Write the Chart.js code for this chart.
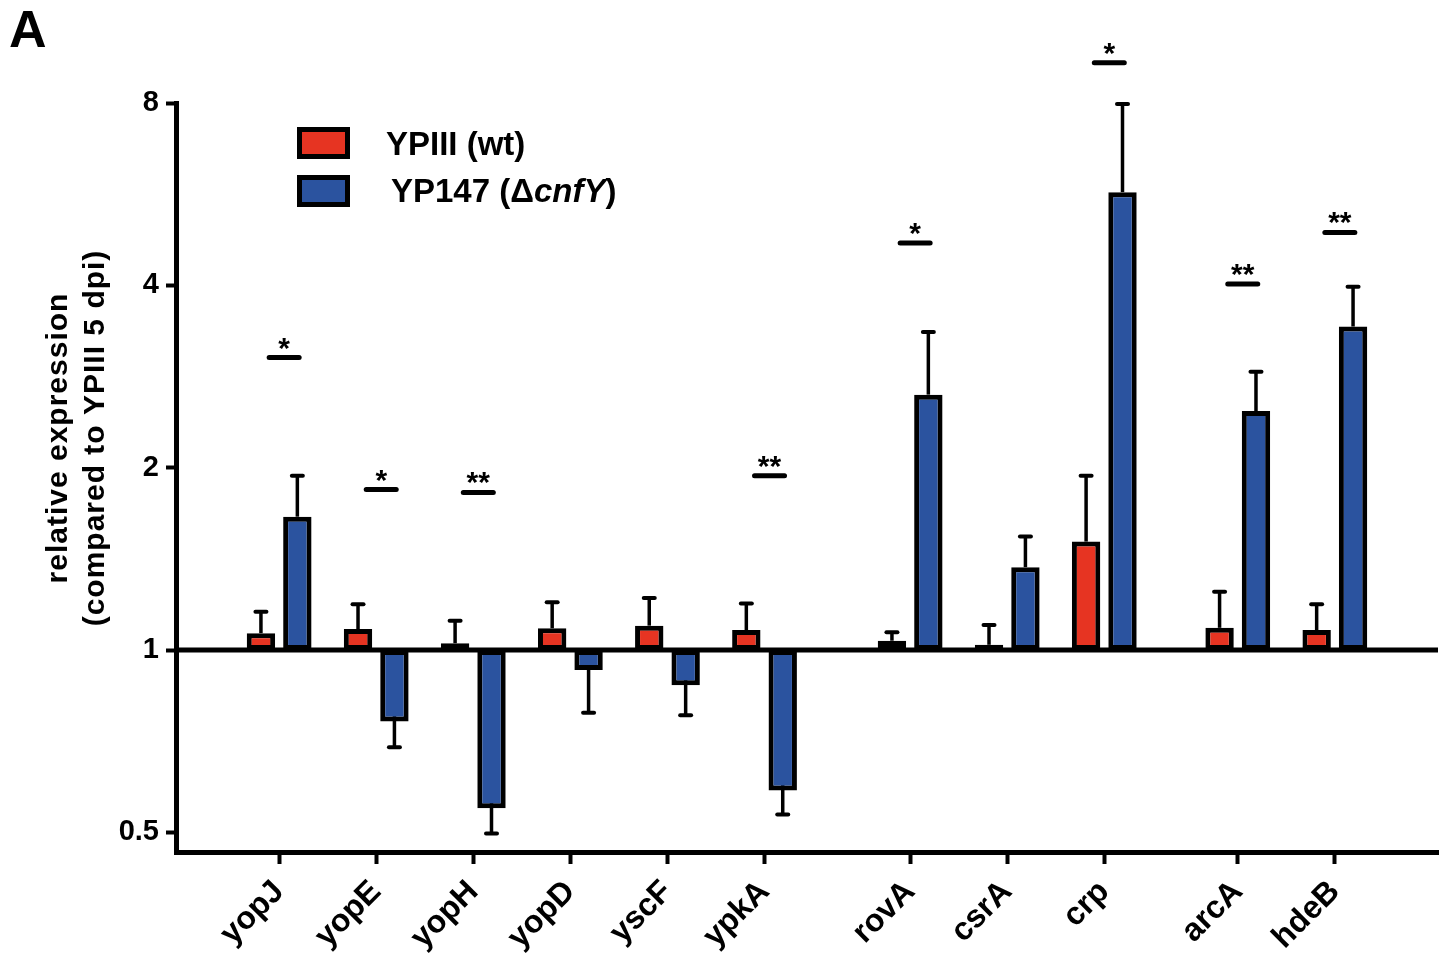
<!DOCTYPE html>
<html>
<head>
<meta charset="utf-8">
<script src="https://cdn.jsdelivr.net/npm/chart.js@4.4.1/dist/chart.umd.min.js"></script>
<style>
html,body{margin:0;padding:0;background:#fff;}
#wrap{position:relative;width:1447px;height:956px;}
canvas{display:block;}
</style>
</head>
<body>
<div id="wrap"><canvas id="c" width="1447" height="956"></canvas></div>
<script>
// ---- data ----
const genes = ['yopJ','yopE','yopH','yopD','yscF','ypkA','rovA','csrA','crp','arcA','hdeB'];
const geneGroups = [6, 3, 2];
const wtValues  = [1.066, 1.083, 1.026, 1.086, 1.097, 1.079, 1.036, 1.020, 1.51, 1.088, 1.079];
const wtErrors  = [1.157, 1.190, 1.118, 1.199, 1.219, 1.193, 1.070, 1.100, 1.94, 1.248, 1.190];
const mutValues = [1.66, 0.762, 0.548, 0.927, 0.875, 0.586, 2.64, 1.37, 5.70, 2.48, 3.42];
const mutErrors = [1.94, 0.691, 0.498, 0.788, 0.780, 0.535, 3.35, 1.54, 7.97, 2.88, 3.98];
const sigLabels = ['*', '*', '**', '', '', '**', '*', '', '*', '**', '**'];
const sigLevels = [3.04, 1.84, 1.82, null, null, 1.94, 4.70, null, 9.32, 4.02, 4.89];
const yTicks = [0.5, 1, 2, 4, 8];
const seriesNames = ['YPIII (wt)', 'YP147 (ΔcnfY)'];
const yTitle = ['relative expression', '(compared to YPIII 5 dpi)'];
const panelLabel = 'A';

// ---- layout of category slots (spacing between genes and clusters) ----
const SLOT = 8, GAPS = [12, 11], LEAD = 8, TRAIL = 8;
const slotLabels = [];
const geneSlot = [];
(function buildSlots(){
  let g = 0;
  for (let k = 0; k < LEAD; k++) slotLabels.push('');
  geneGroups.forEach((n, gi) => {
    for (let j = 0; j < n; j++) {
      geneSlot.push(slotLabels.length);
      slotLabels.push(genes[g++]);
      const pad = (j < n - 1) ? SLOT - 1 : (gi < geneGroups.length - 1 ? GAPS[gi] - 1 : TRAIL);
      for (let k = 0; k < pad; k++) slotLabels.push('');
    }
  });
})();
function toSlots(vals){
  const arr = slotLabels.map(() => null);
  vals.forEach((v, i) => { arr[geneSlot[i]] = [1, v]; });
  return arr;
}

const RED = '#E63422', BLUE = '#2B539F';
const FONT = '"Liberation Sans", Arial, Helvetica, sans-serif';

const errorBarPlugin = {
  id: 'errorBars',
  beforeDatasetsDraw(chart) {
    const ctx = chart.ctx, y = chart.scales.y;
    const errs = [wtErrors, mutErrors];
    chart.data.datasets.forEach((ds, di) => {
      const meta = chart.getDatasetMeta(di);
      geneSlot.forEach((slot, gi) => {
        const el = meta.data[slot];
        if (!el) return;
        const yEnd = y.getPixelForValue(errs[di][gi]);
        ctx.save();
        ctx.strokeStyle = '#000';
        ctx.lineWidth = 3.5;
        ctx.lineCap = 'butt';
        ctx.beginPath();
        ctx.moveTo(el.x, el.y);
        ctx.lineTo(el.x, yEnd);
        ctx.stroke();
        ctx.lineWidth = 4;
        ctx.lineCap = 'round';
        ctx.beginPath();
        ctx.moveTo(el.x - 5.5, yEnd);
        ctx.lineTo(el.x + 5.5, yEnd);
        ctx.stroke();
        ctx.restore();
      });
    });
  }
};

const decorPlugin = {
  id: 'decor',
  afterDatasetsDraw(chart) {
    const ctx = chart.ctx, x = chart.scales.x, y = chart.scales.y, ca = chart.chartArea;
    // baseline at 1
    const y1 = y.getPixelForValue(1);
    ctx.save();
    ctx.strokeStyle = '#000';
    ctx.lineWidth = 5;
    ctx.beginPath();
    ctx.moveTo(ca.left, y1);
    ctx.lineTo(ca.right, y1);
    ctx.stroke();
    // significance markers
    sigLevels.forEach((lvl, i) => {
      if (lvl == null) return;
      const cx = x.getPixelForValue(geneSlot[i]) + 5;
      const py = y.getPixelForValue(lvl);
      ctx.lineWidth = 5;
      ctx.lineCap = 'round';
      ctx.beginPath();
      ctx.moveTo(cx - 15, py);
      ctx.lineTo(cx + 15, py);
      ctx.stroke();
      ctx.fillStyle = '#000';
      ctx.font = 'bold 30px ' + FONT;
      ctx.textAlign = 'center';
      ctx.textBaseline = 'alphabetic';
      ctx.fillText(sigLabels[i], cx, py);
    });
    ctx.restore();
  },
  afterDraw(chart) {
    const ctx = chart.ctx;
    ctx.save();
    ctx.fillStyle = '#000';
    // panel label
    ctx.font = 'bold 52px ' + FONT;
    ctx.textAlign = 'left';
    ctx.textBaseline = 'alphabetic';
    ctx.fillText(panelLabel, 9, 47);
    // y title
    ctx.font = 'bold 30px ' + FONT;
    ctx.textAlign = 'center';
    try { ctx.letterSpacing = '1px'; } catch(e) {}
    [[yTitle[0], 67], [yTitle[1], 104]].forEach(([t, bx]) => {
      ctx.save();
      ctx.translate(bx, 438);
      ctx.rotate(-Math.PI / 2);
      ctx.fillText(t, 0, 0);
      ctx.restore();
    });
    try { ctx.letterSpacing = '0px'; } catch(e) {}
    // legend
    const boxes = [[RED, 127], [BLUE, 175]];
    boxes.forEach(([c, top]) => {
      ctx.fillStyle = '#000';
      ctx.fillRect(297, top, 53, 32);
      ctx.fillStyle = c;
      ctx.fillRect(302, top + 5, 43, 22);
    });
    ctx.fillStyle = '#000';
    ctx.textAlign = 'left';
    ctx.font = 'bold 33px ' + FONT;
    ctx.fillText(seriesNames[0], 386, 155);
    // second entry with italic gene name
    const m = seriesNames[1].match(/^(.*Δ)(.*)(\))$/);
    let tx = 391;
    ctx.font = 'bold 33px ' + FONT;
    ctx.fillText(m[1], tx, 202); tx += ctx.measureText(m[1]).width;
    ctx.font = 'italic bold 33px ' + FONT;
    ctx.fillText(m[2], tx, 202); tx += ctx.measureText(m[2]).width;
    ctx.font = 'bold 33px ' + FONT;
    ctx.fillText(m[3], tx, 202);
    ctx.restore();
  }
};

new Chart(document.getElementById('c'), {
  type: 'bar',
  data: {
    labels: slotLabels,
    datasets: [
      { label: seriesNames[0], data: toSlots(wtValues), backgroundColor: RED,
        borderColor: '#000', borderWidth: 5, borderSkipped: false },
      { label: seriesNames[1], data: toSlots(mutValues), backgroundColor: BLUE,
        borderColor: '#000', borderWidth: 5, borderSkipped: false }
    ]
  },
  options: {
    responsive: false,
    animation: false,
    devicePixelRatio: 1,
    categoryPercentage: 6.0,
    barPercentage: 0.78,
    layout: { padding: { left: 0, right: 9, top: 103, bottom: 0 } },
    plugins: { legend: { display: false }, tooltip: { enabled: false } },
    scales: {
      x: {
        type: 'category',
        offset: true,
        grid: { display: true, drawOnChartArea: false, drawTicks: true, offset: false,
                tickLength: 12, tickWidth: 4, tickColor: '#000' },
        border: { display: true, color: '#000', width: 5 },
        ticks: { autoSkip: false, minRotation: 45, maxRotation: 45, color: '#000',
                 padding: 9, font: { family: FONT, size: 32, weight: 'bold' } },
        afterBuildTicks: s => { s.ticks = s.ticks.filter(t => slotLabels[t.value] !== ''); },
        afterFit: s => { s.height = 104; }
      },
      y: {
        type: 'logarithmic',
        min: 0.464,
        max: 8,
        afterBuildTicks: s => { s.ticks = yTicks.map(v => ({ value: v, major: true })); },
        ticks: { color: '#000', padding: 7, font: { family: FONT, size: 29, weight: 'bold' },
                 callback: v => String(v) },
        grid: { display: true, drawOnChartArea: false, tickLength: 10, tickWidth: 4, tickColor: '#000' },
        border: { display: true, color: '#000', width: 5 },
        afterFit: s => { s.width = 176; }
      }
    }
  },
  plugins: [errorBarPlugin, decorPlugin]
});
</script>
</body>
</html>
